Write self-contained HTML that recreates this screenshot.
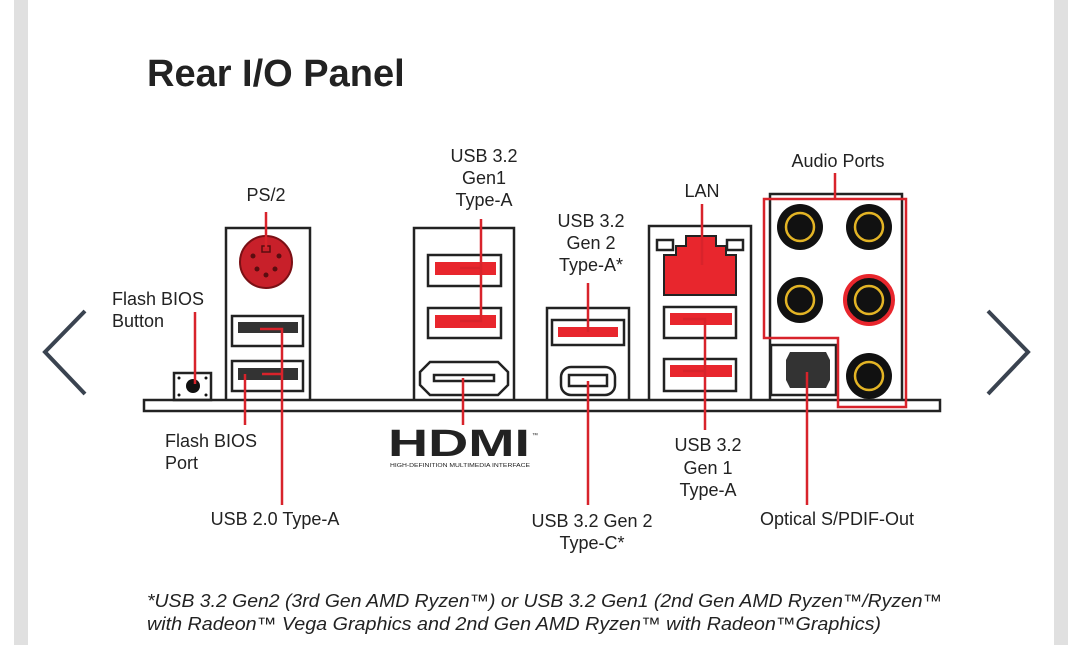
<!DOCTYPE html>
<html><head><meta charset="utf-8"><style>
body{margin:0;background:#fff;}
svg{display:block;}
text{font-family:"Liberation Sans",sans-serif;fill:#222;}
</style></head><body>
<svg width="1080" height="645" viewBox="0 0 1080 645" xmlns="http://www.w3.org/2000/svg">
<rect x="0" y="0" width="1080" height="645" fill="#fff"/>
<rect x="14" y="0" width="14" height="645" fill="#e0e0e0"/>
<rect x="1054" y="0" width="14" height="645" fill="#e0e0e0"/>
<text x="147" y="86" font-size="38" font-weight="bold" fill="#1a1a1a">Rear I/O Panel</text>

<polyline points="85,311 45,352 85,394" fill="none" stroke="#3a4350" stroke-width="4"/>
<polyline points="988,311 1028,352 988,394" fill="none" stroke="#3a4350" stroke-width="4"/>

<g fill="none" stroke="#222" stroke-width="2.5">
<rect x="144" y="400" width="796" height="11" fill="#fff"/>
<polyline points="226,400 226,228 310,228 310,400"/>
<rect x="232" y="316" width="71" height="30"/>
<rect x="232" y="361" width="71" height="30"/>
<rect x="174" y="373" width="37" height="27"/>
<polyline points="414,400 414,228 514,228 514,400"/>
<rect x="428" y="255" width="73" height="31"/>
<rect x="428" y="308" width="73" height="30"/>
<path d="M420,372 L430,362 L498,362 L508,372 L508,385 L498,395 L430,395 L420,385 Z"/>
<rect x="434" y="375" width="60" height="6"/>
<polyline points="547,400 547,308 629,308 629,400"/>
<rect x="552" y="320" width="72" height="25"/>
<rect x="561" y="367" width="54" height="28" rx="10"/>
<rect x="569" y="375" width="38" height="11"/>
<polyline points="649,400 649,226 751,226 751,400"/>
<rect x="657" y="240" width="16" height="10"/>
<rect x="727" y="240" width="16" height="10"/>
<rect x="664" y="307" width="72" height="31"/>
<rect x="664" y="359" width="72" height="32"/>
<polyline points="770,400 770,194 902,194 902,400"/>
<rect x="771" y="345" width="65" height="50"/>
</g>
<circle cx="266" cy="262" r="26" fill="#c8202a" stroke="#7a1015" stroke-width="2"/>
<g fill="#5a0d10"><circle cx="253" cy="256" r="2.5"/><circle cx="279" cy="256" r="2.5"/><circle cx="257" cy="269" r="2.5"/><circle cx="275" cy="269" r="2.5"/><circle cx="266" cy="275" r="2.5"/></g>
<rect x="262" y="246" width="8" height="6" fill="none" stroke="#5a0d10" stroke-width="1.5"/>
<rect x="238" y="322" width="60" height="11" fill="#333"/>
<rect x="238" y="368" width="60" height="12" fill="#333"/>
<circle cx="193" cy="386" r="7" fill="#111"/>
<g fill="#111"><circle cx="179" cy="378" r="1.5"/><circle cx="206" cy="378" r="1.5"/><circle cx="179" cy="395" r="1.5"/><circle cx="206" cy="395" r="1.5"/></g>
<g fill="#e8262d">
<rect x="435" y="262" width="61" height="13"/>
<rect x="435" y="315" width="61" height="13"/>
<rect x="558" y="327" width="60" height="10"/>
<rect x="670" y="313" width="62" height="12"/>
<rect x="670" y="365" width="62" height="12"/>
<path d="M664,295 L664,255 L676,255 L676,246 L686,246 L686,236 L716,236 L716,246 L726,246 L726,255 L736,255 L736,295 Z" stroke="#222" stroke-width="2"/>
</g>
<path d="M790,352 L826,352 L830,360 L830,380 L826,388 L790,388 L786,380 L786,360 Z" fill="#333"/>
<g>
<circle cx="800" cy="227" r="23" fill="#111"/><circle cx="800" cy="227" r="14" fill="none" stroke="#e3b425" stroke-width="2.5"/>
<circle cx="869" cy="227" r="23" fill="#111"/><circle cx="869" cy="227" r="14" fill="none" stroke="#e3b425" stroke-width="2.5"/>
<circle cx="800" cy="300" r="23" fill="#111"/><circle cx="800" cy="300" r="14" fill="none" stroke="#e3b425" stroke-width="2.5"/>
<circle cx="869" cy="300" r="24" fill="#111" stroke="#e8262d" stroke-width="4"/><circle cx="869" cy="300" r="14" fill="none" stroke="#e3b425" stroke-width="2.5"/>
<circle cx="869" cy="376" r="23" fill="#111"/><circle cx="869" cy="376" r="14" fill="none" stroke="#e3b425" stroke-width="2.5"/>
</g>
<polygon points="764,199 906,199 906,407 838,407 838,338 764,338" fill="none" stroke="#d8232b" stroke-width="2.5"/>

<g fill="none" stroke="#d8232b" stroke-width="2.5">
<line x1="266" y1="212" x2="266" y2="248"/>
<line x1="195" y1="312" x2="195" y2="384"/>
<polyline points="260,329 282,329 282,505"/>
<line x1="262" y1="374" x2="282" y2="374"/>
<line x1="245" y1="374" x2="245" y2="425"/>
<polyline points="481,219 481,268 460,268"/>
<polyline points="481,268 481,321 460,321"/>
<line x1="463" y1="378" x2="463" y2="425"/>
<line x1="588" y1="283" x2="588" y2="332"/>
<line x1="588" y1="381" x2="588" y2="505"/>
<line x1="702" y1="204" x2="702" y2="265"/>
<polyline points="683,319 705,319 705,430"/>
<line x1="683" y1="371" x2="705" y2="371"/>
<line x1="835" y1="173" x2="835" y2="199"/>
<line x1="807" y1="372" x2="807" y2="505"/>
</g>

<text x="388" y="456" font-size="38" font-weight="bold" fill="#222" textLength="142" lengthAdjust="spacingAndGlyphs">HDMI</text>
<text x="390" y="467" font-size="5" fill="#222" textLength="140" lengthAdjust="spacingAndGlyphs">HIGH-DEFINITION MULTIMEDIA INTERFACE</text>
<text x="532" y="437" font-size="6" fill="#222">™</text>

<g font-size="18" fill="#222">
<text x="266" y="201" text-anchor="middle">PS/2</text>
<text x="112" y="305">Flash BIOS</text>
<text x="112" y="327">Button</text>
<text x="165" y="447">Flash BIOS</text>
<text x="165" y="469">Port</text>
<text x="275" y="525" text-anchor="middle">USB 2.0 Type-A</text>
<text x="484" y="162" text-anchor="middle">USB 3.2</text>
<text x="484" y="184" text-anchor="middle">Gen1</text>
<text x="484" y="206" text-anchor="middle">Type-A</text>
<text x="591" y="227" text-anchor="middle">USB 3.2</text>
<text x="591" y="249" text-anchor="middle">Gen 2</text>
<text x="591" y="271" text-anchor="middle">Type-A*</text>
<text x="702" y="197" text-anchor="middle">LAN</text>
<text x="838" y="167" text-anchor="middle">Audio Ports</text>
<text x="708" y="451" text-anchor="middle">USB 3.2</text>
<text x="708" y="474" text-anchor="middle">Gen 1</text>
<text x="708" y="496" text-anchor="middle">Type-A</text>
<text x="592" y="527" text-anchor="middle">USB 3.2 Gen 2</text>
<text x="592" y="549" text-anchor="middle">Type-C*</text>
<text x="837" y="525" text-anchor="middle">Optical S/PDIF-Out</text>
</g>
<g font-size="18" font-style="italic" fill="#333">
<text x="147" y="607" textLength="795" lengthAdjust="spacingAndGlyphs">*USB 3.2 Gen2 (3rd Gen AMD Ryzen™) or USB 3.2 Gen1 (2nd Gen AMD Ryzen™/Ryzen™</text>
<text x="147" y="630" textLength="734" lengthAdjust="spacingAndGlyphs">with Radeon™ Vega Graphics and 2nd Gen AMD Ryzen™ with Radeon™Graphics)</text>
</g>
</svg>
</body></html>
